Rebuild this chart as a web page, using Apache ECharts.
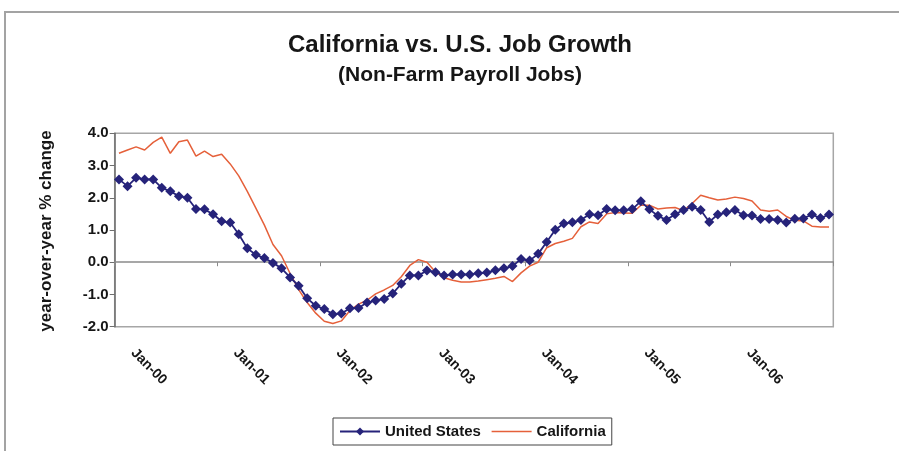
<!DOCTYPE html>
<html><head><meta charset="utf-8">
<script src="https://cdn.jsdelivr.net/npm/echarts@6/dist/echarts.min.js"></script>
<style>html,body{margin:0;padding:0;background:#fff}#c{width:899px;height:451px}</style>
</head><body><div id="c"></div>
<script>
const years = ['00','01','02','03','04','05','06'];
const monthNames = ['Jan','Feb','Mar','Apr','May','Jun','Jul','Aug','Sep','Oct','Nov','Dec'];
const categories = [];
years.forEach(y => monthNames.forEach(m => categories.push(m + '-' + y)));

const usValues = [
  2.57, 2.36, 2.62, 2.57, 2.57, 2.31, 2.20, 2.05, 2.00, 1.65, 1.64, 1.49,
  1.27, 1.23, 0.87, 0.43, 0.23, 0.13, -0.02, -0.19, -0.47, -0.73, -1.12, -1.35,
  -1.45, -1.61, -1.59, -1.43, -1.42, -1.25, -1.19, -1.14, -0.97, -0.67, -0.41, -0.41,
  -0.26, -0.31, -0.41, -0.38, -0.38, -0.38, -0.34, -0.32, -0.25, -0.19, -0.12, 0.10,
  0.05, 0.26, 0.63, 1.01, 1.20, 1.24, 1.31, 1.49, 1.46, 1.65, 1.61, 1.61,
  1.65, 1.89, 1.64, 1.44, 1.31, 1.49, 1.62, 1.72, 1.62, 1.25, 1.48, 1.55,
  1.62, 1.46, 1.45, 1.34, 1.34, 1.31, 1.23, 1.35, 1.36, 1.48, 1.37, 1.48
];
const caValues = [
  3.38, 3.48, 3.58, 3.48, 3.72, 3.88, 3.38, 3.74, 3.79, 3.29, 3.45, 3.28,
  3.35, 3.05, 2.68, 2.20, 1.68, 1.15, 0.55, 0.20, -0.35, -0.85, -1.25, -1.58,
  -1.83, -1.90, -1.82, -1.50, -1.30, -1.18, -0.98, -0.86, -0.72, -0.45, -0.10, 0.08,
  0.00, -0.30, -0.48, -0.56, -0.61, -0.61, -0.58, -0.54, -0.50, -0.44, -0.60, -0.33,
  -0.12, 0.00, 0.45, 0.58, 0.65, 0.74, 1.10, 1.25, 1.20, 1.50, 1.54, 1.53,
  1.52, 1.77, 1.77, 1.65, 1.68, 1.70, 1.60, 1.82, 2.08, 2.00, 1.93, 1.96,
  2.02, 1.98, 1.90, 1.62, 1.58, 1.62, 1.42, 1.30, 1.28, 1.12, 1.09, 1.09
];
const seriesNames = ['United States', 'California'];
const titleText = 'California vs. U.S. Job Growth';
const subtitleText = '(Non-Farm Payroll Jobs)';
const yAxisTitle = 'year-over-year % change';

const FONT = "'Liberation Sans', Arial, Helvetica, sans-serif";
const NAVY = '#26237a';
const RED = '#e5603a';
const TXT = '#161616';

const chart = echarts.init(document.getElementById('c'), null, {renderer: 'canvas'});
chart.setOption({
  animation: false,
  backgroundColor: '#ffffff',
  graphic: [
    {type: 'rect', silent: true, z: -10, shape: {x: 5, y: 12, width: 910, height: 460},
     style: {fill: 'none', stroke: '#a3a3a3', lineWidth: 2}},
    {type: 'text', x: 460, y: 45, style: {text: titleText, fontFamily: FONT, fontSize: 24, fontWeight: 'bold',
     fill: TXT, align: 'center', verticalAlign: 'middle'}},
    {type: 'text', x: 460, y: 75, style: {text: subtitleText, fontFamily: FONT, fontSize: 21, fontWeight: 'bold',
     fill: TXT, align: 'center', verticalAlign: 'middle'}},
    {type: 'text', x: 46, y: 231, rotation: Math.PI / 2, style: {text: yAxisTitle, fontFamily: FONT, fontSize: 17,
     fontWeight: 'bold', fill: TXT, align: 'center', verticalAlign: 'middle'}}
  ],
  legend: {
    left: 333, top: 418, orient: 'horizontal',
    itemWidth: 40, itemHeight: 10, itemGap: 10,
    padding: [6, 6], borderColor: '#444', borderWidth: 1,
    textStyle: {fontFamily: FONT, fontSize: 15, fontWeight: 'bold', color: TXT},
    data: [
      {name: seriesNames[0]},
      {name: seriesNames[1], icon: 'line', itemStyle: {color: RED, borderColor: RED, borderWidth: 1.5}}
    ]
  },
  grid: {left: 114.7, right: 65.7, top: 133.3, bottom: 124.3, show: true,
         borderColor: '#a6a6a6', borderWidth: 1.5, backgroundColor: 'transparent'},
  xAxis: [
    {
      type: 'category', data: categories, boundaryGap: true, position: 'bottom',
      axisLine: {show: false, onZero: false},
      axisTick: {show: false},
      splitLine: {show: false},
      axisLabel: {interval: 11, rotate: -45, margin: 10, padding: [0, 0, 0, 20],
                  fontFamily: FONT, fontSize: 14, fontWeight: 'bold', color: TXT}
    },
    {
      type: 'category', data: categories, boundaryGap: true, position: 'bottom',
      axisLine: {show: true, onZero: true, lineStyle: {color: '#8a8a8a', width: 1.5}},
      axisTick: {show: true, interval: 11, length: 4, lineStyle: {color: '#8a8a8a', width: 1}},
      axisLabel: {show: false},
      splitLine: {show: false}
    }
  ],
  yAxis: {
    type: 'value', min: -2, max: 4, interval: 1,
    axisLine: {show: true, lineStyle: {color: '#6e6e6e', width: 1.5}},
    axisTick: {show: true, length: 5, lineStyle: {color: '#6e6e6e'}},
    splitLine: {show: false},
    axisLabel: {margin: 6, fontFamily: FONT, fontSize: 15, fontWeight: 'bold', color: TXT,
                formatter: v => v.toFixed(1)}
  },
  series: [
    {
      name: seriesNames[0], type: 'line', data: usValues, xAxisIndex: 0, z: 3,
      symbol: 'diamond', symbolSize: 10, showSymbol: true, showAllSymbol: true,
      lineStyle: {color: NAVY, width: 1.8}, itemStyle: {color: NAVY}
    },
    {
      name: seriesNames[1], type: 'line', data: caValues, xAxisIndex: 0, z: 2,
      symbol: 'none', lineStyle: {color: RED, width: 1.5}, itemStyle: {color: RED}
    }
  ]
});
</script></body></html>
